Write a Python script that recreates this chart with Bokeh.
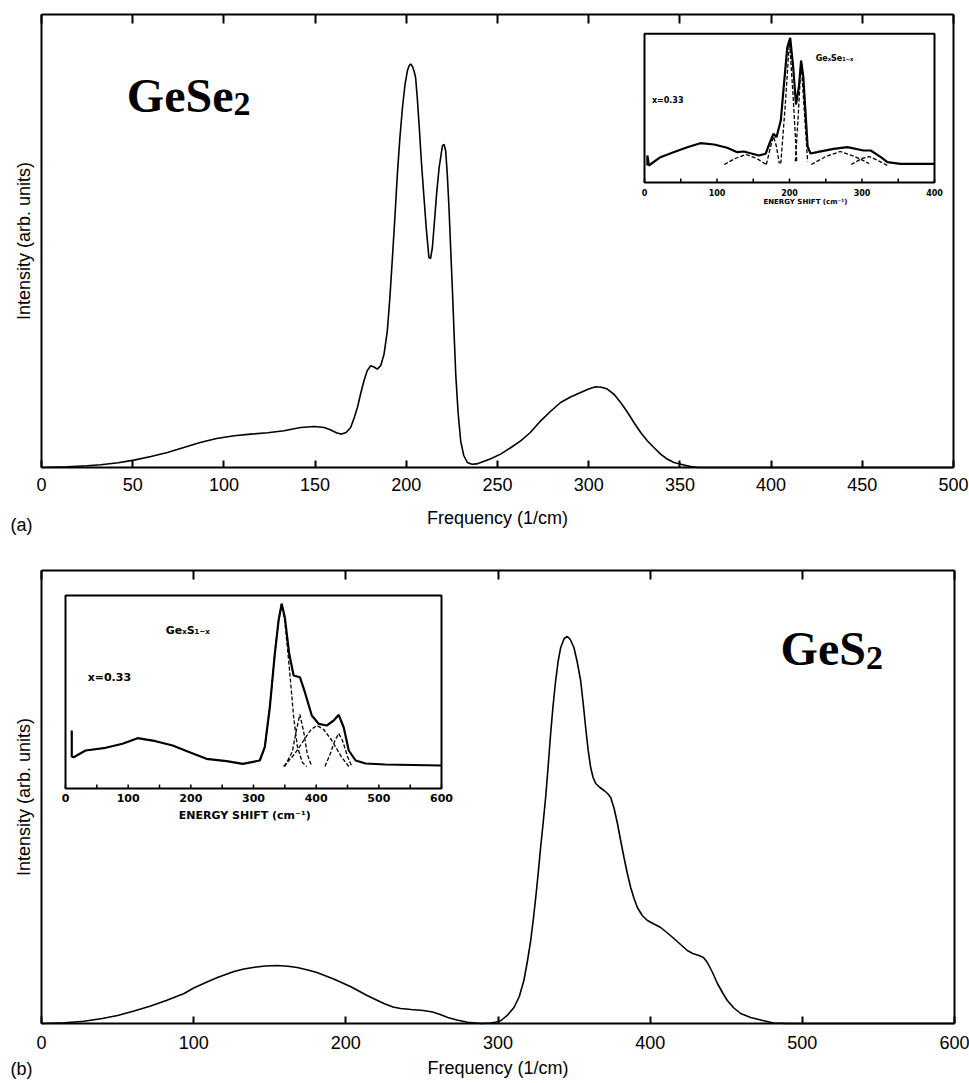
from bokeh.plotting import figure
from bokeh.models import Range1d, LinearAxis, FixedTicker, Label
from bokeh.layouts import column
from bokeh.embed import file_html
from bokeh.resources import INLINE
from bokeh.core.properties import value

# ---------------- data (arb. units) ----------------
# Panel (a): GeSe2 main spectrum
gese2_freq = [0, 14, 25, 32.5, 42, 50.7, 60, 69, 78, 87, 96, 105.6, 114.7, 124, 133, 142, 149.6, 155,
              158.6, 162, 164.5, 167, 169.5, 171.5, 173.2, 175, 176.8, 178.6, 180.5, 182.3, 184.1, 186,
              187.8, 189.6, 191, 192.4, 193.8, 195.1, 196.5, 197.9, 199.3, 200.6, 201.6, 202.4, 203.4,
              204.3, 205.1, 206, 207, 208.3, 209.7, 211, 212.4, 213.3, 214.3, 215.4, 216.6, 218, 219.8,
              220.7, 221.6, 222.5, 223.4, 224.3, 225.3, 226.2, 227.1, 228.4, 229.8, 231.5, 233.5, 236,
              238.5, 240.8, 246, 251.7, 257, 262.7, 268, 273.7, 279, 284.6, 290, 295.6, 300, 303.8, 307,
              310.2, 314, 317.5, 321, 324.8, 328.5, 332.1, 336, 339.4, 343, 346.7, 352.2, 356, 360, 500]
gese2_int = [0, 0.7, 1.8, 2.7, 4.8, 7.4, 11, 15, 20, 25, 29, 31.7, 33.4, 34.7, 36.7, 40, 41, 40,
             37.5, 34.5, 33.4, 35, 40, 50, 60, 74, 86.7, 97, 101.7, 100.5, 98.4, 102,
             113.4, 136.7, 170, 210, 252, 293.4, 330, 360, 383, 396.7, 402, 403.4, 401,
             396, 390, 370, 343.4, 305, 270, 238, 210, 209, 220, 245, 273.4, 300, 321.7,
             323, 316.7, 292, 260, 220, 176.7, 134, 93.4, 55, 26.7, 12, 5, 3.2,
             3.6, 5, 8.5, 13.4, 19.5, 26.7, 35, 46.7, 56, 65, 70.5, 75, 78.5, 80.7, 80.3,
             78.4, 73, 65, 56, 45, 35, 26.7, 19.5, 13.4, 8.5, 5, 2.4, 1, 0, 0]

# Panel (a) inset: Ge_xSe_1-x, x = 0.33 (measured Raman)
ins_a_shift = [4, 4, 6, 22, 40, 59, 77, 96, 114, 128, 137, 146, 158, 167, 174, 178, 182, 188, 192, 197,
               201, 205, 209, 213, 216, 219, 222, 225, 229, 238, 261, 280, 302, 312, 326, 335, 353, 400]
ins_a_int = [1, 11, 1, 9.3, 14.3, 19.3, 23.3, 22, 18.7, 14.3, 15, 13.3, 11, 12.7, 26, 32.7, 29.3, 46, 79.3,
             119.3, 128.7, 100, 62, 80, 106, 90, 55, 20, 13, 14.3, 17.7, 19.3, 16, 16, 9.3, 4.3, 2.7, 2.7]
ins_a_comp_shift = [
    [110, 125, 140, 155, 168],
    [168, 174, 178, 182, 186],
    [188, 194, 200, 205, 210],
    [208, 212, 216, 220, 225],
    [230, 250, 270, 290, 310],
    [285, 300, 310, 322, 335],
]
ins_a_comp_int = [
    [2, 8, 12, 8, 2],
    [2, 20, 30, 20, 3],
    [3, 60, 126, 70, 5],
    [5, 50, 104, 60, 5],
    [2, 10, 15, 10, 3],
    [2, 8, 10, 6, 1],
]
ins_a_base_start = [0, 100, 355, 100]
ins_a_base_end = [50, 330, 400, 330]
ins_a_base_level = [0, 0, 0, 5]
ins_a_ticks = [0, 50, 100, 150, 200, 250, 300, 350, 400]
ins_a_labels = [0, 100, 200, 300, 400]

# Panel (b): GeS2 main spectrum
ges2_freq = [0, 15, 28, 40, 50, 60.8, 71.8, 82, 93.7, 100, 108, 115.6, 126.5, 133, 140, 147, 155, 162,
             168, 175, 181, 192, 203, 214, 225, 231, 236, 243, 251, 257, 262, 267, 273, 280, 289, 295,
             299, 302, 306, 310.5, 314, 317, 319.3, 321.5, 323.2, 324.8, 326.4, 328, 329.7, 331.3, 333,
             334.6, 336.2, 337.9, 339.5, 341.2, 343.5, 345.6, 347.5, 349.9, 352, 354.3, 356, 357.6,
             359.2, 360.9, 362.5, 364.2, 367, 369.7, 372, 374.1, 376.3, 378.5, 380.6, 382.8, 385,
             387.2, 389.4, 391.6, 394.8, 398.2, 402.5, 406.9, 411, 415.6, 420, 424.4, 428, 432, 435,
             437.6, 441, 444.2, 447.5, 450.7, 455, 459.5, 466, 474, 481, 490, 600]
ges2_int = [0, 0.8, 2.3, 5, 8, 12.5, 17.5, 23, 30, 35.5, 41, 46, 52, 54.5, 56.3, 57.5, 58, 57.3,
            56, 53.5, 51, 44.5, 37, 28, 20, 16.5, 15, 14, 13, 11.5, 9, 6, 3.5, 1.2, 0, 0.5,
            1.5, 3, 8, 16, 27, 43, 62, 83, 104, 126, 150, 176, 201, 226, 258,
            290, 318, 343, 362, 376, 385, 387, 384, 376, 362, 343, 320, 296,
            274, 256, 246, 240, 236, 233, 230, 226, 215, 200, 183, 166, 150,
            136, 125, 116, 108, 103, 99.5, 96, 91, 85, 79, 73, 70, 68, 66,
            61, 51, 40, 31, 23, 15.5, 10, 6, 3, 0.5, 0, 0]

# Panel (b) inset: Ge_xS_1-x, x = 0.33
ins_b_shift = [10, 10, 13, 32, 64, 91, 115, 144, 171, 198, 225, 257, 283, 297, 310, 318, 326, 334, 340,
               345, 350, 357, 364, 374, 382, 393, 404, 417, 428, 436, 444, 452, 463, 479, 510, 600]
ins_b_int = [36, 10, 9.3, 16, 18.7, 22.7, 28.3, 25.3, 21, 14.3, 7.7, 5.3, 2.7, 4.3, 6, 19.3, 59, 112.7, 146,
             162.7, 149, 112.7, 91, 89.3, 74.3, 51, 42.7, 41, 46, 51.7, 39, 16, 6, 3, 2, 1]
ins_b_comp_shift = [
    [310, 318, 326, 334, 340, 345, 350, 357, 364, 370, 378, 385],
    [350, 362, 368, 374, 380, 386, 393],
    [348, 365, 380, 392, 401, 412, 425, 440, 452],
    [414, 422, 430, 436, 442, 450, 457],
]
ins_b_comp_int = [
    [6, 19, 59, 113, 146, 162.7, 145, 100, 50, 20, 4, 0],
    [0, 15, 35, 52, 35, 12, 0],
    [0, 12, 26, 37, 41, 37, 26, 10, 0],
    [0, 12, 26, 33, 26, 10, 0],
]
ins_b_ticks = [0, 50, 100, 150, 200, 250, 300, 350, 400, 450, 500, 550, 600]
ins_b_labels = [0, 100, 200, 300, 400, 500, 600]

a_ticks = [0, 50, 100, 150, 200, 250, 300, 350, 400, 450, 500]
b_ticks = [0, 100, 200, 300, 400, 500, 600]

FONT = "Liberation Sans"
SERIF = "Liberation Serif"
IFONT = "DejaVu Sans"
W = 969


def sub_range(main_lo, main_hi, box_lo, box_hi, v_lo, v_hi):
    """Extra range in which v_lo..v_hi lands on main-range box_lo..box_hi."""
    k = (v_hi - v_lo) / (box_hi - box_lo)
    return Range1d(v_lo - (box_lo - main_lo) * k, v_lo + (main_hi - box_lo) * k)


def make_panel(height, xmax, ymax, px_left, px_right, px_base, ticks, lab_so, axlab_so):
    # The frame covers the whole canvas; the axes are pinned to the data box.
    ppu = (px_right - px_left) / xmax          # pixels per x unit
    x0 = -px_left / ppu
    x1 = xmax + (W - px_right) / ppu
    y0 = -(height - px_base)                   # 1 y unit == 1 px
    y1 = px_base
    p = figure(width=W, height=height, x_range=Range1d(x0, x1), y_range=Range1d(y0, y1),
               output_backend="svg", toolbar_location=None,
               min_border_left=0, min_border_right=0, min_border_top=0, min_border_bottom=0,
               x_axis_label="Frequency (1/cm)", y_axis_label="Intensity (arb. units)")
    p.grid.visible = False
    p.outline_line_color = None
    p.background_fill_color = "white"
    p.border_fill_color = "white"

    xa = p.xaxis[0]
    xa.fixed_location = 0
    xa.bounds = (0, xmax)
    xa.ticker = FixedTicker(ticks=ticks)
    xa.major_tick_in = 7
    xa.major_tick_out = 0
    xa.major_tick_line_width = 2
    xa.major_tick_line_color = "black"
    xa.minor_tick_line_color = None
    xa.axis_line_width = 2
    xa.axis_line_color = "black"
    xa.major_label_text_font = FONT
    xa.major_label_text_font_size = "18px"
    xa.major_label_text_color = "black"
    xa.major_label_standoff = lab_so
    xa.axis_label_text_font = FONT
    xa.axis_label_text_font_size = "18px"
    xa.axis_label_text_font_style = "normal"
    xa.axis_label_text_color = "black"
    xa.axis_label_standoff = axlab_so

    ya = p.yaxis[0]
    ya.fixed_location = 0
    ya.bounds = (0, ymax)
    ya.ticker = FixedTicker(ticks=[])
    ya.major_tick_out = 0
    ya.major_tick_in = 0
    ya.minor_tick_line_color = None
    ya.major_label_standoff = 0
    ya.axis_line_width = 2
    ya.axis_line_color = "black"
    ya.axis_label_text_font = FONT
    ya.axis_label_text_font_size = "18px"
    ya.axis_label_text_font_style = "normal"
    ya.axis_label_text_color = "black"
    ya.axis_label_standoff = 8

    top = LinearAxis(ticker=FixedTicker(ticks=ticks), fixed_location=ymax, bounds=(0, xmax),
                     major_tick_in=9, major_tick_out=0,
                     major_tick_line_width=2, minor_tick_line_color=None,
                     major_label_text_color=None, major_label_text_font_size="1px",
                     major_label_standoff=0, axis_line_width=2)
    p.add_layout(top, "above")
    right = LinearAxis(ticker=FixedTicker(ticks=[]), fixed_location=xmax, bounds=(0, ymax),
                       major_tick_in=0, major_tick_out=0, minor_tick_line_color=None,
                       major_label_text_color=None, major_label_text_font_size="1px",
                       major_label_standoff=0, axis_line_width=2)
    p.add_layout(right, "right")
    return p


def draw_inset(p, shift, inten, comp_x, comp_y, xlo, xhi, ylo, yhi, ticks, labels,
               tick_len, lab_y, axlab_x, axlab_y, lab_size, axlab_size,
               title_x, title_y, title_txt, title_size, conc_x, conc_y, conc_size):
    kw = dict(x_range_name="ins", y_range_name="ins")
    p.quad(left=[xlo], right=[xhi], bottom=[ylo], top=[yhi], fill_color="white",
           line_color="black", line_width=2, **kw)
    p.segment(x0=ticks, y0=[ylo] * len(ticks), x1=ticks, y1=[ylo + tick_len] * len(ticks),
              line_color="black", line_width=1.5, **kw)
    p.multi_line(xs=comp_x, ys=comp_y, line_color="black", line_width=1.3, line_dash="4 2", **kw)
    p.line(shift, inten, line_color="black", line_width=2.2, **kw)
    p.text(x=labels, y=[lab_y] * len(labels), text=[str(v) for v in labels],
           text_font=value(IFONT), text_font_style="bold", text_font_size=lab_size,
           text_align="center", text_baseline="middle", text_color="black", **kw)
    p.text(x=[axlab_x], y=[axlab_y], text=["ENERGY SHIFT (cm\u207b\u00b9)"],
           text_font=value(IFONT), text_font_style="bold", text_font_size=axlab_size,
           text_align="center", text_baseline="middle", text_color="black", **kw)
    p.text(x=[title_x], y=[title_y], text=[title_txt],
           text_font=value(IFONT), text_font_style="bold", text_font_size=title_size,
           text_align="center", text_baseline="middle", text_color="black", **kw)
    p.text(x=[conc_x], y=[conc_y], text=["x=0.33"],
           text_font=value(IFONT), text_font_style="bold", text_font_size=conc_size,
           text_align="center", text_baseline="middle", text_color="black", **kw)


# ---------------- panel (a) ----------------
# canvas 0..545 px; data box: x 41..953 px, baseline at 467 px, top at 14 px
pa = make_panel(545, 500, 453, 41, 953, 467, a_ticks, 10, 14)
pa.line(gese2_freq, gese2_int, line_color="black", line_width=1.6)
ppu_a = (953 - 41) / 500
pa.extra_x_ranges = {"ins": sub_range(pa.x_range.start, pa.x_range.end,
                                      (644 - 41) / ppu_a, (934 - 41) / ppu_a, 0, 400)}
pa.extra_y_ranges = {"ins": sub_range(pa.y_range.start, pa.y_range.end,
                                      467 - 182, 467 - 33.3, -16, 132.7)}
pa.segment(x0=ins_a_base_start, y0=ins_a_base_level, x1=ins_a_base_end, y1=ins_a_base_level,
           line_color="black", line_width=2.2, x_range_name="ins", y_range_name="ins")
draw_inset(pa, ins_a_shift, ins_a_int, ins_a_comp_shift, ins_a_comp_int, 0, 400, -16, 132.7,
           ins_a_ticks, ins_a_labels, 4, -26, 222, -35, "8px", "7px",
           262, 108, "Ge\u2093Se\u2081\u208b\u2093", "8px", 32, 66, "8px")
pa.add_layout(Label(x=46.8, y=371.7, text="GeSe", text_font=SERIF, text_font_style="bold",
                    text_font_size="48px", text_baseline="alphabetic", text_color="black"))
pa.add_layout(Label(x=105.3, y=363.7, text="2", text_font=SERIF, text_font_style="bold",
                    text_font_size="34px", text_baseline="alphabetic", text_color="black"))
pa.add_layout(Label(x=-17, y=-57, text="(a)", text_font=FONT,
                    text_font_size="18px", text_baseline="middle", text_color="black"))

# ---------------- panel (b) ----------------
# canvas 545..1083 px; data box: x 41..954 px, baseline at 1023 px, top at 570 px
pb = make_panel(538, 600, 453, 41, 954, 1023 - 545, b_ticks, 12, 6)
pb.line(ges2_freq, ges2_int, line_color="black", line_width=1.6)
ppu_b = (954 - 41) / 600
pb.extra_x_ranges = {"ins": sub_range(pb.x_range.start, pb.x_range.end,
                                      (65 - 41) / ppu_b, (441 - 41) / ppu_b, 0, 600)}
pb.extra_y_ranges = {"ins": sub_range(pb.y_range.start, pb.y_range.end,
                                      1023 - 788, 1023 - 595, -22, 171)}
pb.segment(x0=[0], y0=[0], x1=[600], y1=[0], line_color="black", line_width=2.5,
           x_range_name="ins", y_range_name="ins")
draw_inset(pb, ins_b_shift, ins_b_int, ins_b_comp_shift, ins_b_comp_int, 0, 600, -22, 171,
           ins_b_ticks, ins_b_labels, 4, -31, 286, -49, "11px", "11px",
           195, 136, "Ge\u2093S\u2081\u208b\u2093", "11px", 70, 89, "11px")
pb.add_layout(Label(x=485.7, y=375, text="GeS", text_font=SERIF, text_font_style="bold",
                    text_font_size="48px", text_baseline="alphabetic", text_color="black"))
pb.add_layout(Label(x=541.8, y=366, text="2", text_font=SERIF, text_font_style="bold",
                    text_font_size="34px", text_baseline="alphabetic", text_color="black"))
pb.add_layout(Label(x=-20.4, y=-45, text="(b)", text_font=FONT,
                    text_font_size="18px", text_baseline="middle", text_color="black"))

layout = column(pa, pb, spacing=0)
open("out.html", "w").write(file_html(layout, INLINE))
